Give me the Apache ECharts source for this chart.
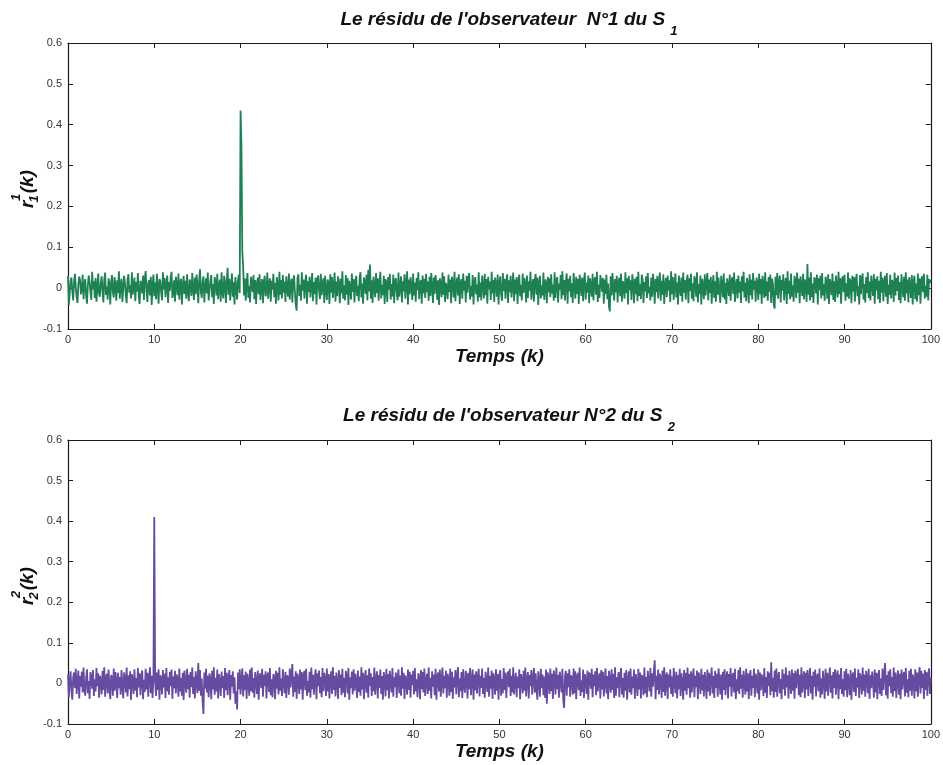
<!DOCTYPE html>
<html>
<head>
<meta charset="utf-8">
<script src="https://cdn.jsdelivr.net/npm/echarts@6/dist/echarts.min.js"></script>
<style>
html,body{margin:0;padding:0;background:#fff;}
#c{width:943px;height:765px;}
</style>
</head>
<body>
<div id="c"></div>
<script>
// ---- data ----
const timeStep = 0.1;           // sampling step of k
const xTicks = [0, 10, 20, 30, 40, 50, 60, 70, 80, 90, 100];
const yTicks = [-0.1, 0, 0.1, 0.2, 0.3, 0.4, 0.5, 0.6];
const title1 = "Le résidu de l'observateur  N°1 du S ";
const title1Sub = "1";
const title2 = "Le résidu de l'observateur N°2 du S ";
const title2Sub = "2";
const xName = "Temps (k)";

// residual r_1^1(k), observer 1, system S1
const r11 = [
.030,-.041,-.012,.018,.026,-.008,-.030,.014,.035,.002,-.022,-.036,.010,.028,.019,-.015,-.004,.033,-.027,.008,
.022,-.018,-.038,.006,.031,.015,-.010,-.029,.040,-.003,.017,-.024,.025,-.033,.001,.036,-.014,-.021,.012,.029,
-.006,-.035,.020,.038,-.017,.004,-.028,.024,.011,-.040,.016,.032,-.009,-.023,.027,.005,-.031,.019,-.012,.041,
-.026,.009,.023,-.034,-.002,.030,.013,-.019,-.037,.021,.034,-.011,.007,-.025,.039,-.016,.003,.026,-.032,.015,
-.008,.037,-.021,-.039,.018,.010,-.013,.031,-.029,.024,.042,-.005,-.034,.012,.020,-.018,.028,-.041,.006,.033,
-.020,.014,-.027,.035,.002,-.038,.022,.017,-.011,-.030,.039,-.003,.025,-.022,.009,.031,-.036,.015,-.007,.027,
.040,-.024,-.012,.019,-.033,.028,.006,-.017,.036,-.028,.011,.023,-.040,.004,.030,-.014,.018,-.026,.034,-.009,
-.032,.021,.013,-.019,.037,-.004,-.029,.026,-.015,.033,.008,-.037,.020,.046,-.010,-.024,.016,.029,-.035,.003,
.024,-.013,.038,-.030,-.006,.017,.032,-.022,.010,-.039,.027,.014,-.018,.035,-.027,.005,.021,-.033,.039,-.011,
-.025,.030,.012,-.036,.018,.050,-.016,.023,-.030,.008,.036,-.021,.015,-.040,.027,.003,-.028,.019,.033,-.012,
.435,.350,.090,.052,-.018,.024,-.031,.012,.037,-.024,.006,-.035,.028,.016,-.010,.032,-.027,.020,-.039,.009,
.026,-.015,.034,-.029,.004,.022,-.037,.014,.030,-.020,-.008,.038,-.026,.011,.024,-.033,.018,-.004,.035,-.022,
.013,-.038,.027,.007,-.030,.040,-.016,.020,-.025,.032,-.011,.016,-.034,.029,.002,-.021,.036,-.028,.010,.023,
-.035,.018,.031,-.012,-.042,-.055,.025,.034,-.019,.008,-.031,.039,-.006,.021,-.026,.013,.033,-.038,.017,-.009,
.028,-.023,.005,.037,-.032,.015,-.014,.026,-.040,.019,.031,-.007,-.027,.035,-.017,.009,.024,-.036,.030,-.004,
-.029,.021,.012,-.039,.034,-.011,.027,-.024,.004,.038,-.033,.016,-.020,.029,.010,-.037,.023,-.013,.041,-.026,
.007,-.030,.032,-.016,.025,-.041,.018,.003,-.028,.036,-.009,.022,-.035,.014,.030,-.019,.006,-.032,.027,.039,
-.023,.011,-.038,.026,.017,-.014,.033,-.030,.045,-.008,.058,-.026,.019,-.036,.028,.005,-.022,.037,-.012,.024,
-.031,.013,.040,-.025,.008,-.017,.030,-.039,.022,.015,-.034,.027,-.004,.035,-.028,.010,-.020,.033,-.037,.018,
.025,-.012,-.030,.038,-.021,.006,.029,-.035,.017,-.008,.034,-.026,.012,.041,-.040,.021,-.015,.027,.003,-.029,
.036,-.018,.014,-.033,.025,-.005,.039,-.027,.009,.020,-.038,.031,-.013,.023,-.024,.035,-.010,.016,-.031,.028,
-.019,.037,.004,-.036,.026,-.014,.032,.011,-.029,.019,-.041,.024,.008,-.022,.038,-.016,.029,-.034,.013,.002,
-.027,.033,-.009,.021,-.037,.028,.015,-.023,.040,-.032,.007,.026,-.018,.034,-.039,.012,.022,-.026,.036,-.006,
.018,-.035,.030,-.011,.024,.037,-.028,.005,-.020,.032,-.040,.017,.027,-.015,.009,-.033,.039,-.022,.014,-.030,
.031,.006,-.025,.035,-.017,.022,-.038,.028,-.003,.016,-.029,.040,-.013,.020,-.034,.026,.010,-.021,.033,-.040,
.012,.029,-.016,-.031,.037,-.007,.023,-.026,.015,.034,-.036,.019,-.010,.030,-.023,.004,.038,-.032,.021,-.014,
.027,-.039,.016,.033,-.020,.008,-.030,.036,-.012,.025,.011,-.035,.031,-.024,.017,-.006,.040,-.028,.003,.022,
-.033,.019,.035,-.016,.026,-.041,.013,.030,-.025,.007,-.018,.038,-.029,.021,.014,-.037,.028,-.010,.024,-.022,
.034,-.013,.009,-.031,.039,-.024,.018,.027,-.035,.011,-.004,.032,-.027,.041,-.017,.020,-.030,.015,.036,-.038,
.023,-.008,.030,-.022,.012,-.036,.037,.005,-.026,.028,-.014,.022,-.039,.033,.010,-.019,.026,-.032,.017,.038,
-.028,.014,-.011,.031,-.037,.024,.006,-.021,.035,-.030,.019,.027,-.016,.040,-.034,.009,-.024,.032,.016,-.009,
.025,-.038,.021,-.014,.033,-.027,.011,-.045,-.057,.029,-.018,.037,.004,-.031,.022,-.010,.030,-.035,.013,.026,
-.020,.036,-.033,.017,.008,-.026,.039,-.012,.024,-.040,.030,-.005,.019,-.029,.034,.012,-.037,.023,-.015,.028,
-.032,.040,-.019,.010,-.027,.033,.021,-.036,.015,-.008,.029,-.024,.037,-.013,.003,-.030,.026,-.021,.035,.011,
-.038,.022,-.010,.030,-.025,.013,.038,-.031,.018,-.016,.034,-.039,.007,.025,-.022,.031,-.006,.019,-.034,.041,
-.015,.027,-.029,.009,.036,-.023,.014,-.040,.031,.002,-.019,.026,-.033,.038,-.011,.020,-.028,.016,.033,-.037,
.024,-.007,.035,-.026,.012,-.032,.029,.018,-.021,.039,-.035,.010,-.014,.031,-.040,.023,.006,-.027,.034,-.018,
.015,.037,-.030,.021,-.012,.028,-.038,.005,.032,-.024,.017,-.033,.040,-.016,.026,-.009,-.036,.030,.011,-.022,
.036,-.027,.013,-.039,.024,.008,-.019,.033,-.031,.019,.027,-.014,.038,-.034,.004,.022,-.025,.031,-.011,.016,
-.036,.029,-.008,.040,-.023,.014,-.032,.025,.010,-.037,.034,-.017,.021,-.028,.037,-.004,.018,-.033,.026,.012,
-.029,.035,-.015,.022,-.038,.030,.006,-.024,.039,-.020,.016,-.031,.027,-.009,.033,-.036,.023,.011,-.042,-.050,
.028,-.017,.037,-.026,.013,.031,-.035,.020,-.006,.034,-.030,.009,.025,-.039,.041,-.014,.018,-.027,.036,-.021,
.007,-.033,.030,.016,-.024,.038,-.011,.023,-.037,.029,.004,-.019,.035,-.028,.021,.013,-.034,.059,-.016,.026,
-.030,.039,-.022,.011,-.036,.027,.019,-.013,.033,-.040,.024,-.005,.030,-.025,.037,-.018,.010,-.031,.028,.015,
-.026,.034,-.039,.022,.008,-.017,.036,-.029,.017,-.034,.031,.003,-.023,.040,-.014,.025,-.038,.019,.029,-.010,
.033,-.031,.012,-.021,.038,-.026,.024,.014,-.037,.030,-.008,.027,-.033,.018,.035,-.020,.006,-.040,.032,-.015,
.022,.036,-.028,.010,-.035,.027,-.012,.039,-.024,.016,-.030,.031,.005,-.019,.034,-.038,.023,-.006,.029,-.027,
.018,-.036,.040,-.011,.026,-.032,.014,.030,-.021,.037,-.039,.009,-.016,.033,-.025,.020,.012,-.034,.038,-.018,
.025,-.007,.031,-.029,.015,-.037,.034,.003,-.022,.028,-.031,.039,-.013,.021,-.035,.027,.008,-.024,.032,-.040,
.016,.030,-.027,.011,-.033,.036,-.017,.024,-.038,.019,.029,-.010,.035,-.026,.006,-.021,.033,-.030,.022,.013,
.020
];

// residual r_2^2(k), observer 2, system S2
const r22 = [
.022,-.034,.008,.030,-.019,-.040,.015,.027,-.011,.036,-.026,.004,.032,-.037,.018,-.008,.029,-.022,.039,-.015,
-.030,.013,.035,-.024,.006,-.038,.028,.017,-.013,.033,-.031,.010,-.020,.038,-.007,.025,-.035,.019,.003,-.027,
.031,-.016,.040,-.033,.012,.024,-.025,.034,-.009,-.039,.021,.014,-.030,.037,-.018,.028,.005,-.036,.026,-.012,
.016,-.028,.033,-.005,-.037,.027,.011,-.022,.039,-.032,.020,-.014,.030,-.041,.023,.007,-.026,.035,-.017,.013,
-.034,.038,-.010,.025,-.029,.018,.032,-.039,.009,-.021,.036,-.015,.026,-.033,.014,.040,-.024,.019,-.036,.010,
.410,.008,-.031,.027,-.016,.035,-.040,.020,.011,-.027,.033,-.010,.024,-.036,.038,-.019,.015,-.028,.029,-.006,
.034,-.038,.017,-.012,.031,-.025,.022,.009,-.033,.037,-.020,.013,-.030,.026,-.041,.032,.004,-.023,.036,-.014,
.021,-.035,.028,-.009,.039,-.026,.016,-.037,.030,.007,-.024,.050,-.018,.033,-.030,.012,-.045,-.075,.027,-.013,
.036,-.022,.019,-.034,.025,.010,-.039,.031,-.015,.040,-.028,.014,-.020,.034,-.037,.023,.006,-.031,.029,-.011,
.018,-.036,.038,-.017,.026,-.029,.012,.033,-.040,.021,-.008,.030,-.025,.015,-.050,-.020,-.064,.027,-.014,.035,
-.027,.011,.037,-.032,.020,-.016,.029,-.038,.024,.005,-.030,.034,-.019,.039,-.023,.013,-.035,.028,.008,-.026,
.032,-.040,.016,.025,-.012,.036,-.033,.021,-.006,.030,-.037,.018,.027,-.021,.038,-.029,.010,-.034,.023,.015,
-.039,.031,-.013,.026,-.027,.040,-.018,.012,-.031,.035,.003,-.024,.029,-.036,.020,.014,-.028,.037,-.010,.022,
.048,-.033,.017,-.021,.030,-.038,.024,.009,-.026,.034,-.015,.028,-.040,.019,.031,-.017,.036,-.030,.006,-.022,
.029,-.035,.039,-.014,.021,-.028,.013,.035,-.039,.025,-.007,.032,-.024,.016,-.034,.038,-.019,.026,.010,-.031,
.037,-.020,.023,-.037,.011,.030,-.026,.040,-.016,.018,-.032,.027,.004,-.038,.033,-.011,.022,-.029,.036,-.023,
.014,-.034,.031,.019,-.025,.038,-.040,.015,-.012,.029,-.027,.035,-.018,.024,.007,-.036,.032,-.021,.017,-.030,
.040,-.015,.026,-.039,.012,.033,-.023,.020,-.035,.037,-.006,.025,-.031,.016,-.019,.039,-.028,.009,.030,-.037,
.021,-.011,.034,-.026,.018,-.040,.028,.013,-.032,.036,-.017,.023,-.037,.031,.005,-.022,.038,-.033,.015,-.009,
.027,-.036,.012,.035,-.024,.019,-.030,.040,-.013,.026,-.038,.020,.008,-.028,.034,-.016,.029,-.035,.022,-.004,
.031,-.027,.038,-.019,.010,-.034,.025,.016,-.039,.033,-.014,.028,-.022,.037,-.031,.006,.024,-.026,.039,-.018,
.013,-.037,.030,-.008,.022,-.029,.036,-.040,.017,.027,-.020,.034,-.033,.011,.039,-.025,.019,-.012,.032,-.035,
.024,.008,-.030,.037,-.021,.029,-.038,.015,-.010,.033,-.027,.020,.040,-.034,.012,-.019,.028,-.036,.035,-.005,
-.023,.031,.016,-.037,.026,-.014,.038,-.029,.009,.034,-.040,.022,-.017,.030,-.025,.013,.036,-.032,.019,-.011,
.037,-.026,.014,-.035,.029,.004,-.021,.039,-.033,.018,-.013,.032,-.038,.025,.010,-.028,.035,-.018,.023,-.040,
.020,.033,-.030,.011,-.024,.038,-.016,.027,-.036,.015,.030,-.009,.036,-.031,.019,-.022,.040,-.027,.006,.026,
-.034,.017,-.012,.035,-.039,.023,.012,-.025,.031,-.018,.039,-.032,.008,.028,-.037,.021,-.006,.033,-.028,.014,
.038,-.023,.025,-.015,-.040,.030,.007,-.033,.036,-.011,.022,-.029,.017,-.036,.034,-.050,.027,.010,-.026,.037,
-.019,.024,-.038,.032,.013,-.027,.039,-.014,.021,-.035,.029,.005,-.022,.036,-.042,-.060,.018,.031,-.030,.025,
-.009,.035,-.033,.020,.014,-.028,.037,-.024,.030,-.039,.016,.026,-.017,.039,-.031,.008,-.021,.034,-.036,.023,
.011,-.026,.032,-.040,.027,.019,-.013,.036,-.034,.022,-.007,.030,-.029,.038,-.020,.012,.025,-.037,.033,-.015,
.029,-.032,.006,.037,-.025,.018,-.039,.031,.010,-.023,.035,-.016,.024,-.036,.040,-.030,.015,-.011,.028,-.034,
.020,.038,-.027,.013,-.035,.026,-.018,.033,-.040,.009,.030,-.022,.037,-.028,.017,-.012,.034,-.038,.023,.004,
-.031,.036,-.015,.027,-.037,.021,.012,-.029,.039,-.024,.016,-.034,.031,.007,-.020,.038,-.033,.025,-.008,.030,
.057,-.039,.019,-.016,.034,-.027,.024,.011,-.036,.032,-.021,.040,-.030,.014,.027,-.038,.022,-.010,.035,-.026,
.017,-.033,.038,.008,-.024,.029,-.037,.021,-.014,.036,-.031,.025,.004,-.040,.033,-.018,.026,-.028,.039,-.012,
.023,-.035,.030,-.022,.015,.037,-.034,.019,-.009,.032,-.039,.027,.013,-.026,.036,-.017,.021,-.032,.028,.006,
-.038,.034,-.020,.026,-.030,.012,.039,-.025,.018,-.036,.031,-.011,.024,-.033,.037,.009,-.027,.022,-.040,.029,
-.016,.035,-.029,.014,.030,-.037,.023,-.008,.038,-.032,.017,.026,-.022,.036,-.039,.010,-.019,.033,-.026,.040,
-.013,.021,-.035,.031,.007,-.028,.036,-.020,.025,-.038,.015,.033,-.030,.019,-.011,.037,-.034,.024,.012,-.025,
.034,-.040,.027,-.017,.022,.010,-.031,.038,-.023,.016,-.036,.030,-.006,.026,-.029,.052,-.019,.014,-.035,.032,
-.021,.037,-.033,.018,.028,-.024,.011,-.039,.035,-.014,.023,-.030,.039,-.010,.020,-.037,.031,.005,-.026,.034,
-.018,.025,-.038,.032,-.012,.017,.036,-.029,.021,-.034,.040,-.022,.009,.030,-.036,.026,-.015,.033,-.031,.014,
.038,-.025,.019,-.040,.029,-.008,.034,-.032,.016,.024,-.019,.037,-.035,.012,-.027,.031,.003,-.038,.036,-.020,
.026,-.030,.013,.039,-.023,.020,-.037,.028,-.011,.035,-.028,.017,.032,-.039,.022,-.014,.038,-.026,.010,-.033,
.030,-.017,.036,-.034,.024,.006,-.029,.033,-.040,.019,.027,-.021,.037,-.031,.014,-.010,.035,-.036,.025,.011,
-.027,.039,-.018,.022,-.033,.031,.015,-.024,.036,-.038,.020,-.012,.029,.008,-.035,.034,-.022,.026,-.039,.018,
.033,-.026,.012,-.031,.037,-.016,.025,.050,-.029,.021,-.037,.030,-.007,.035,-.024,.016,-.033,.039,-.019,.027,
-.036,.013,.032,-.028,.024,-.039,.034,-.015,.020,.028,-.032,.038,-.023,.010,-.034,.031,-.018,.036,-.030,.022,
.009,-.037,.035,-.020,.027,-.033,.016,.040,-.025,.031,-.011,.024,-.038,.033,-.016,.028,-.030,.019,.037,-.026,
.015
];

// ---- chart ----
const toPairs = arr => arr.map((v, i) => [+(i * timeStep).toFixed(2), v]);

const FONT = '"Liberation Sans", Arial, Helvetica, sans-serif';
const axisCol = '#1a1a1a';
const labelCol = '#333';

const mctx = document.createElement('canvas').getContext('2d');
function textW(t, fs) {
  mctx.font = 'italic bold ' + fs + 'px ' + FONT;
  return mctx.measureText(t).width;
}

function xAxes(gi) {
  const base = {
    type: 'value', gridIndex: gi, min: xTicks[0], max: xTicks[xTicks.length - 1],
    interval: xTicks[1] - xTicks[0],
    splitLine: { show: false },
    axisLine: { show: true, onZero: false, lineStyle: { color: axisCol, width: 1.2 } },
    axisTick: { show: true, inside: true, length: 5, lineStyle: { color: axisCol } }
  };
  return [
    Object.assign({}, base, {
      position: 'bottom',
      axisLabel: { show: true, color: labelCol, fontSize: 11, fontFamily: FONT, margin: 5 },
      name: xName, nameLocation: 'middle', nameGap: 18,
      nameTextStyle: { fontSize: 19, fontWeight: 'bold', fontStyle: 'italic', fontFamily: FONT, color: '#111' }
    }),
    Object.assign({}, base, { position: 'top', axisLabel: { show: false } })
  ];
}
function yAxes(gi) {
  const base = {
    type: 'value', gridIndex: gi, min: yTicks[0], max: yTicks[yTicks.length - 1],
    interval: 0.1,
    splitLine: { show: false },
    axisLine: { show: true, onZero: false, lineStyle: { color: axisCol, width: 1.2 } },
    axisTick: { show: true, inside: true, length: 5, lineStyle: { color: axisCol } }
  };
  return [
    Object.assign({}, base, {
      position: 'left',
      axisLabel: {
        show: true, color: labelCol, fontSize: 11, fontFamily: FONT, margin: 6,
        formatter: v => String(Math.round(v * 10) / 10)
      }
    }),
    Object.assign({}, base, { position: 'right', axisLabel: { show: false } })
  ];
}

function txt(t, x, y, fs, align) {
  return {
    type: 'text', x: x, y: y, silent: true,
    style: { text: t, fontSize: fs, fontWeight: 'bold', fontStyle: 'italic', fontFamily: FONT, fill: '#111', align: align || 'left', verticalAlign: 'middle' }
  };
}
function titleGroup(main, sub, cx, cy) {
  const fsM = 19, fsS = 13;
  const wM = textW(main, fsM), wS = textW(sub, fsS);
  const x0 = cx - (wM + wS) / 2;
  return [txt(main, x0, cy, fsM), txt(sub, x0 + wM, cy + 11, fsS)];
}
function yLabel(sup, sub, cx, cy) {
  const fsM = 19, fsS = 13;
  const wr = textW('r', fsM), wd = textW(sup, fsS), wk = textW('(k)', fsM);
  const total = wr + wd + wk;
  const s = -total / 2;
  return {
    type: 'group', x: cx, y: cy, rotation: Math.PI / 2, silent: true,
    children: [
      txt('r', s, 0, fsM),
      txt(sup, s + wr - 0.5, -12, fsS),
      txt(sub, s + wr - 2, 6, fsS),
      txt('(k)', s + wr + wd, 0, fsM)
    ]
  };
}

const chart = echarts.init(document.getElementById('c'), null, { renderer: 'canvas' });
chart.setOption({
  animation: false,
  backgroundColor: '#fff',
  grid: [
    { left: 68, width: 865, top: 43, height: 286, containLabel: false },
    { left: 68, width: 865, top: 440, height: 284, containLabel: false }
  ],
  xAxis: [...xAxes(0), ...xAxes(1)],
  yAxis: [...yAxes(0), ...yAxes(1)],
  series: [
    {
      type: 'line', xAxisIndex: 0, yAxisIndex: 0, data: toPairs(r11),
      showSymbol: false, symbol: 'none', lineStyle: { color: '#1e8153', width: 1.8 }, z: 1
    },
    {
      type: 'line', xAxisIndex: 2, yAxisIndex: 2, data: toPairs(r22),
      showSymbol: false, symbol: 'none', lineStyle: { color: '#674ba0', width: 1.8 }, z: 1
    }
  ],
  graphic: [
    ...titleGroup(title1, title1Sub, 509, 20),
    ...titleGroup(title2, title2Sub, 509, 416),
    yLabel('1', '1', 28, 189),
    yLabel('2', '2', 28, 586)
  ]
});
</script>
</body>
</html>
